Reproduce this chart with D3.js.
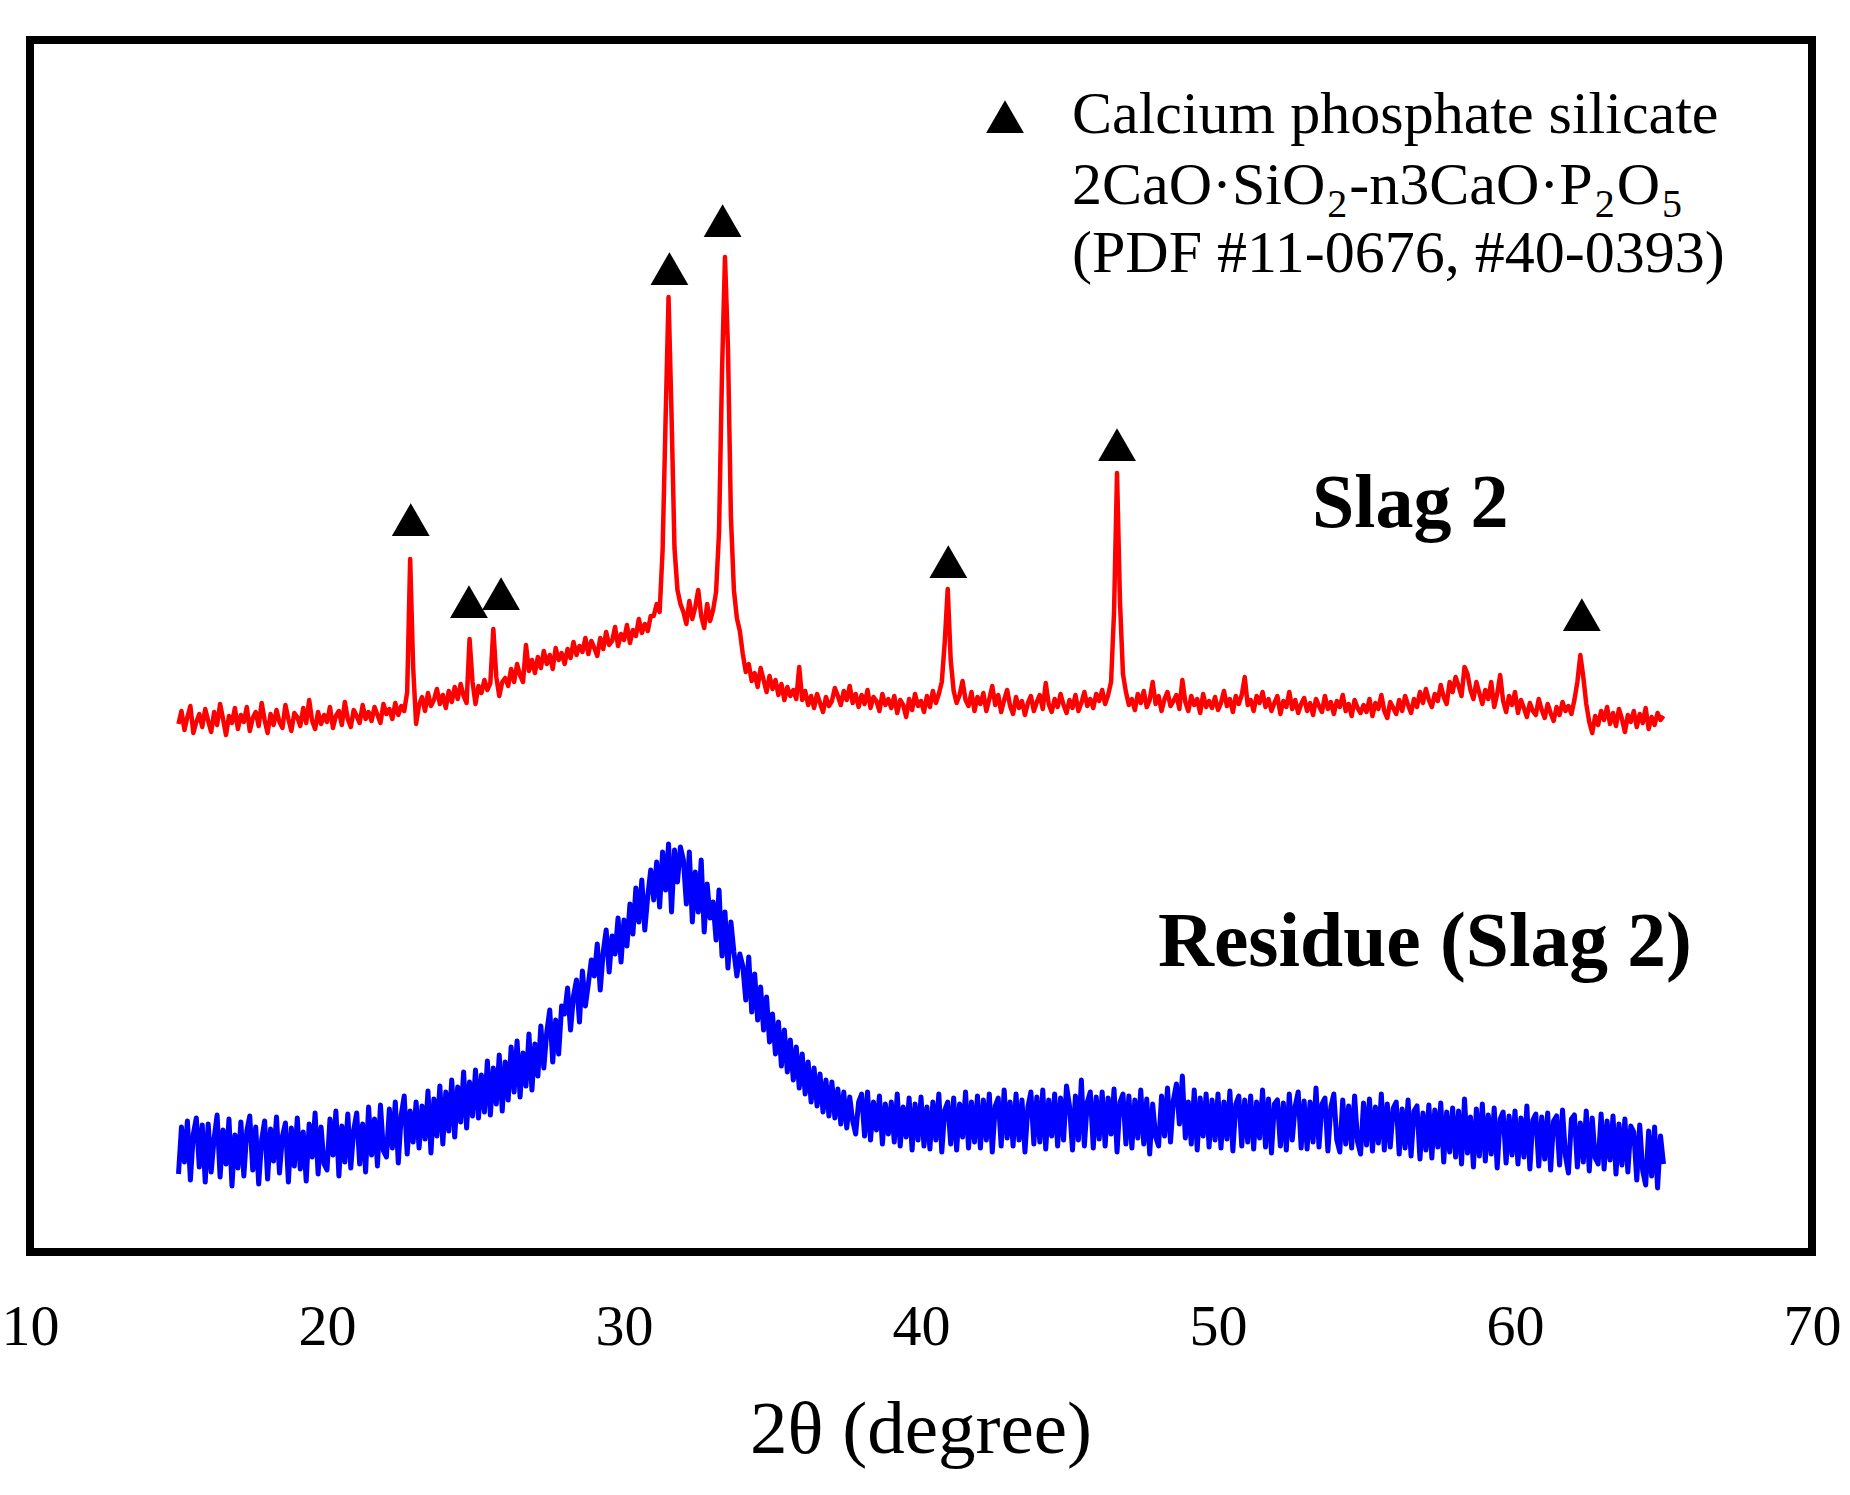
<!DOCTYPE html>
<html>
<head>
<meta charset="utf-8">
<script src="https://cdn.jsdelivr.net/npm/d3@7"></script>
<style>
  body { margin: 0; background: #fff; }
  text { font-family: "Times New Roman", "Liberation Serif", serif; fill: #000; }
</style>
</head>
<body>
<svg id="chart" width="1850" height="1495"></svg>
<script>
// 2-theta sampling of both scans
const startAngle = 15;
const stepAngle = 0.1;

// Slag 2 (red), one row per degree, 15.0 .. 65.0
const slagCounts = [
  528,541,522,535,546,519,530,538,525,543,
  531,520,540,527,548,533,517,536,529,544,
  523,537,530,545,521,534,540,526,549,532,
  519,538,527,542,530,524,547,533,521,539,
  535,526,544,529,552,531,523,540,528,537,
  530,545,524,536,541,527,550,533,525,542,
  536,529,547,533,540,531,545,537,529,548,
  538,543,533,549,537,546,541,560,693,585,
  528,547,555,541,559,546,552,563,548,557,
  544,561,550,565,553,568,556,549,613,570,
  548,566,559,572,562,569,623,575,556,570,
  574,566,583,570,588,577,570,607,581,592,
  579,595,584,601,588,597,583,604,592,599,
  588,603,594,610,597,606,600,614,598,611,
  604,596,614,603,620,607,611,625,606,618,
  612,627,609,622,616,633,619,628,621,636,
  636,648,640,702,832,955,838,704,662,648,
  640,628,651,633,645,662,636,624,648,631,
  642,660,720,880,995,905,735,662,634,621,
  598,580,588,571,579,565,584,572,560,576,
  563,572,557,568,552,565,556,562,553,585,
  552,561,547,556,544,558,549,540,555,546,
  551,564,556,547,561,552,566,549,558,545,
  557,548,562,544,555,551,541,558,547,553,
  544,556,539,552,547,535,553,542,558,546,
  551,540,556,545,561,549,558,570,610,663,
  592,561,549,557,571,552,546,560,541,555,
  548,559,541,553,566,547,557,540,552,562,
  546,538,555,544,551,537,549,556,541,550,
  557,543,569,548,540,553,545,558,547,539,
  552,544,557,541,549,560,546,553,544,558,
  551,562,548,557,570,640,779,650,578,560,
  547,553,542,558,549,561,545,552,570,548,
  556,541,553,560,546,551,557,543,572,550,
  541,556,547,553,539,558,545,551,544,555,
  542,549,561,546,553,540,556,548,557,575,
  547,552,541,556,549,560,545,553,541,549,
  556,538,551,545,560,543,552,539,548,554,
  541,549,537,553,546,540,556,543,550,538,
  551,545,557,541,548,536,552,544,539,547,
  540,553,536,549,543,557,541,534,550,544,
  538,552,541,556,547,539,553,545,560,549,
  563,552,545,558,551,567,555,548,570,560,
  575,566,556,585,578,562,553,570,559,548,
  562,553,570,545,558,577,551,540,556,547,
  560,539,552,544,535,549,541,537,553,542,
  534,548,539,531,545,537,550,541,546,538,
  552,570,597,575,548,530,519,536,527,541,
  532,545,528,539,526,543,533,520,537,530,
  541,525,538,529,544,523,535,527,539,532,
  536
];

// Residue (Slag 2) (blue), one row per degree, 15.0 .. 65.0
const residueCounts = [
  78,125,90,131,72,118,134,85,127,70,
  128,80,114,137,75,122,88,133,66,117,
  84,130,76,121,136,82,125,68,112,131,
  73,123,91,135,79,116,129,70,124,86,
  134,83,120,71,128,95,139,78,125,88,
  82,133,97,141,76,126,90,138,84,122,
  139,88,128,80,145,97,133,86,147,101,
  95,143,104,150,89,137,156,98,141,110,
  150,104,146,113,161,99,153,116,166,108,
  160,121,172,115,165,130,180,124,170,136,
  182,134,177,140,191,137,184,148,197,141,
  190,152,205,160,211,155,199,166,218,162,
  208,176,226,184,220,242,190,232,198,246,
  238,264,222,256,272,230,281,246,268,292,
  276,308,262,300,322,280,316,298,334,290,
  332,306,348,318,364,330,372,322,356,382,
  352,390,345,400,362,408,340,402,370,405,
  392,348,400,330,380,340,392,320,368,334,
  350,312,362,296,340,284,330,300,276,298,
  286,252,295,240,278,232,265,222,255,210,
  238,198,230,186,222,180,212,172,205,164,
  198,158,190,150,184,146,178,140,172,136,
  170,134,163,128,160,124,155,131,118,150,
  158,116,160,112,150,122,156,108,148,118,
  150,110,158,106,145,115,154,102,148,112,
  155,106,145,103,150,112,158,100,142,150,
  108,154,102,148,115,160,104,150,110,156,
  104,152,112,158,100,146,154,106,162,114,
  150,106,158,112,152,100,145,160,108,155,
  110,162,103,152,116,158,106,154,112,166,
  146,102,156,112,172,106,150,160,104,155,
  113,160,106,154,118,163,100,150,158,108,
  156,104,152,114,162,108,153,98,148,115,
  106,156,116,164,110,152,168,128,176,114,
  150,108,162,102,154,116,158,105,152,112,
  158,104,150,113,161,101,148,156,106,152,
  110,156,103,150,114,162,105,153,99,148,
  152,106,149,102,158,112,146,160,104,151,
  103,150,110,164,105,148,154,101,145,158,
  112,100,152,108,146,104,156,110,98,149,
  107,153,101,145,109,158,102,148,105,144,
  150,98,143,104,152,96,141,146,93,139,
  102,147,94,142,105,149,90,140,100,144,
  95,141,88,153,99,135,85,143,96,148,
  91,137,98,144,84,133,140,89,136,97,
  141,88,134,95,146,83,132,138,86,135,
  93,139,82,131,136,87,142,96,79,133,
  137,85,129,90,141,81,134,94,88,138,
  83,131,92,136,78,128,87,133,80,126,
  120,72,127,81,67,121,76,125,64,116,
  88
];

// calcium phosphate silicate reflections marked with triangles
const peakAngles = [22.82, 24.78, 25.86, 31.53, 33.32, 40.92, 46.6, 62.25];
const peakLevels = [727, 645, 653, 978, 1026, 685, 802, 632];

const xTicks = [10, 20, 30, 40, 50, 60, 70];

const svg = d3.select("#chart");
svg.append("rect").attr("width", 1850).attr("height", 1495).attr("fill", "#fff");

const x = d3.scaleLinear().domain([10, 70]).range([30, 1812]);
const y = d3.scaleLinear().domain([0, 1212]).range([1252, 40]);

const toPoints = arr => arr.map((v, i) => [startAngle + i * stepAngle, v]);

const line = d3.line()
  .x(d => x(d[0]))
  .y(d => y(d[1]));

svg.append("path")
  .datum(toPoints(residueCounts))
  .attr("d", line)
  .attr("fill", "none")
  .attr("stroke", "#0000ff")
  .attr("stroke-width", 5)
  .attr("stroke-linejoin", "round");

svg.append("path")
  .datum(toPoints(slagCounts))
  .attr("d", line)
  .attr("fill", "none")
  .attr("stroke", "#ff0000")
  .attr("stroke-width", 4.5)
  .attr("stroke-linejoin", "round");

// peak markers
const tri = d3.symbol().type(d3.symbolTriangle).size(620);
svg.selectAll(".peak")
  .data(peakAngles)
  .enter().append("path")
  .attr("class", "peak")
  .attr("d", tri)
  .attr("transform", (d, i) => `translate(${x(d)},${y(peakLevels[i])})`)
  .attr("fill", "#000");

// frame
svg.append("rect")
  .attr("x", x(10)).attr("y", y(1212))
  .attr("width", x(70) - x(10)).attr("height", y(0) - y(1212))
  .attr("fill", "none")
  .attr("stroke", "#000")
  .attr("stroke-width", 8);

// x axis labels only (no tick marks)
const gx = svg.append("g")
  .attr("transform", `translate(0,${y(0)})`)
  .call(d3.axisBottom(x).tickValues(xTicks).tickSize(0).tickPadding(52).tickFormat(d3.format("d")));
gx.select(".domain").remove();
gx.selectAll("text")
  .style("font-family", "'Times New Roman', 'Liberation Serif', serif")
  .style("font-size", "58px")
  .attr("fill", "#000");

svg.append("text")
  .attr("x", 921).attr("y", 1453)
  .attr("text-anchor", "middle")
  .style("font-size", "75px")
  .text("2θ (degree)");

// series labels
svg.append("text")
  .attr("x", 1312).attr("y", 527)
  .style("font-size", "76px").style("font-weight", "bold")
  .text("Slag 2");

svg.append("text")
  .attr("x", 1158).attr("y", 966)
  .style("font-size", "77.5px").style("font-weight", "bold")
  .text("Residue (Slag 2)");

// legend
svg.append("path")
  .attr("d", tri)
  .attr("transform", "translate(1005,122)")
  .attr("fill", "#000");

svg.append("text")
  .attr("x", 1072).attr("y", 133)
  .style("font-size", "60px")
  .text("Calcium phosphate silicate");

const l2 = svg.append("text")
  .attr("x", 1072).attr("y", 204)
  .style("font-size", "60px");
l2.append("tspan").text("2CaO·SiO");
l2.append("tspan").attr("dx", 2).attr("dy", 13).style("font-size", "40px").text("2");
l2.append("tspan").attr("dx", 2).attr("dy", -13).text("-n3CaO·P");
l2.append("tspan").attr("dx", 2).attr("dy", 13).style("font-size", "40px").text("2");
l2.append("tspan").attr("dx", 2).attr("dy", -13).text("O");
l2.append("tspan").attr("dx", 2).attr("dy", 13).style("font-size", "40px").text("5");

svg.append("text")
  .attr("x", 1072).attr("y", 272)
  .style("font-size", "60px")
  .text("(PDF #11-0676, #40-0393)");
</script>
</body>
</html>
